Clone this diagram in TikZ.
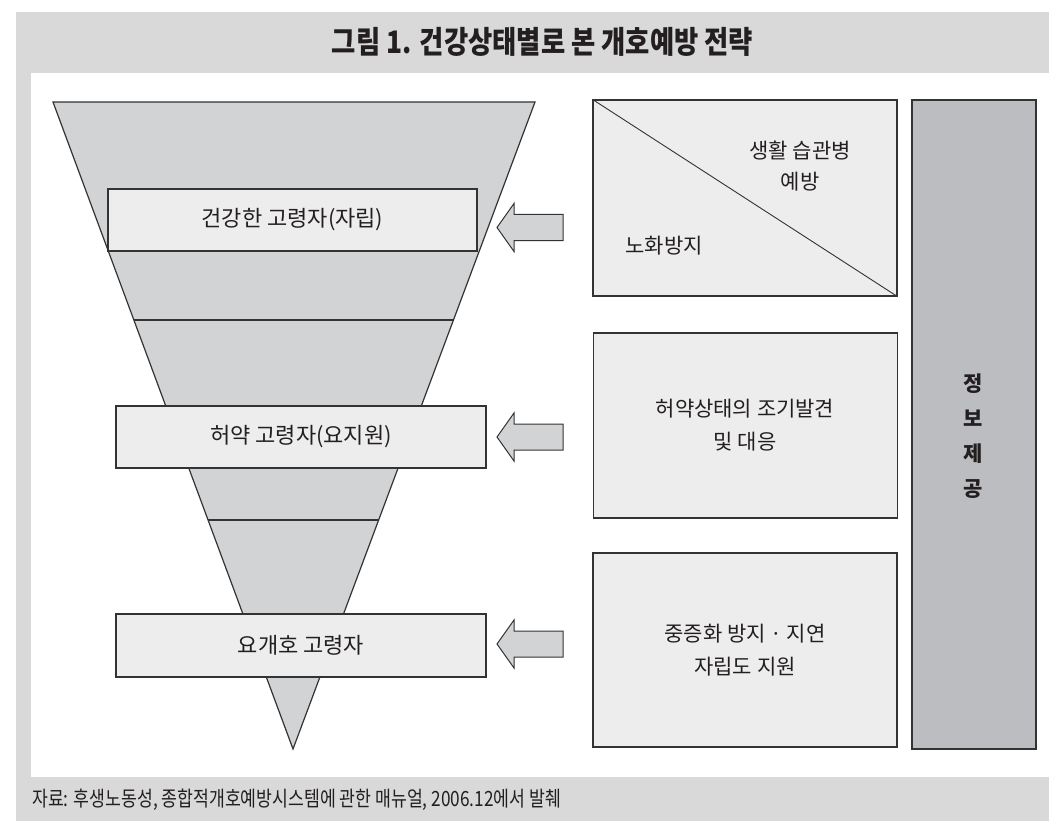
\documentclass[tikz,border=0pt]{standalone}
\usepackage{fontspec}
\setmainfont{Noto Sans CJK KR}
\usetikzlibrary{calc}
\definecolor{outergray}{HTML}{D9D9D9}
\definecolor{funnelgray}{HTML}{D1D3D4}
\definecolor{boxfill}{HTML}{EDEDED}
\definecolor{bargray}{HTML}{BCBDC0}
\definecolor{linecol}{HTML}{333333}
\definecolor{textcol}{HTML}{231F20}
\tikzset{
  level/.style={draw=linecol, fill=boxfill, line width=1.1pt, minimum width=369pt, minimum height=62pt, inner sep=0pt, font=\fontsize{22}{26}\selectfont},
  strat/.style={draw=linecol, fill=boxfill, line width=1.4pt, minimum width=304pt, inner sep=0pt},
  strattext/.style={align=center, font=\fontsize{21}{33}\selectfont, inner sep=0pt},
  blockarrow/.style={draw=linecol, fill=funnelgray, line width=1pt, line join=miter},
  bandline/.style={draw=linecol, line width=1.2pt}
}
\begin{document}
\begin{tikzpicture}[x=1pt,y=-1pt, every node/.append style={text=textcol}]
\useasboundingbox (0,0) rectangle (1049,821);
\fill[white] (0,0) rectangle (1049,821);
\fill[outergray] (16,12) rectangle (1049,821);
\fill[white] (31,72.7) rectangle (1049,777);
% title
\node[font=\bfseries\fontsize{31}{34}\selectfont, inner sep=0pt] (title) at (542.5,42) {\scalebox{0.85}[1]{그림 1. 건강상태별로 본 개호예방 전략}};
% funnel
\coordinate (ftl) at (53,102);
\coordinate (ftr) at (535,102);
\coordinate (fap) at (293,749);
\filldraw[fill=funnelgray, draw=linecol, line width=1.2pt, line join=miter] (ftl) -- (ftr) -- (fap) -- cycle;
\draw[bandline] ($(ftl)!0.337!(fap)$) -- ($(ftr)!0.337!(fap)$);
\draw[bandline] ($(ftl)!0.646!(fap)$) -- ($(ftr)!0.646!(fap)$);
% level boxes
\node[level] (b1) at (292.5,220) {건강한 고령자(자립)};
\node[level, minimum width=370pt] (b2) at (301,437) {허약 고령자(요지원)};
\node[level, minimum width=370pt, minimum height=63pt] (b3) at (301,645.5) {요개호 고령자};
% block arrows
\coordinate (a1) at (497,227.5);
\coordinate (a2) at (497,437);
\coordinate (a3) at (497,644);
\foreach \a in {a1,a2,a3}{
  \draw[blockarrow] (\a) -- ++(17,-24) -- ++(0,11) -- ++(49,0) -- ++(0,26) -- ++(-49,0) -- ++(0,11) -- cycle;
}
% strategy boxes
\node[strat, minimum height=196pt] (r1) at (745,198) {};
\draw[draw=linecol, line width=0.9pt] (r1.north west) -- (r1.south east);
\node[strattext, font=\fontsize{21}{31}\selectfont] (r1a) at (800,166) {생활 습관병\\예방};
\node[strattext] (r1b) at (664,246) {노화방지};
\node[strat, minimum height=185pt] (r2) at (745.5,425.5) {};
\node[strattext] (r2t) at (745,425) {허약상태의 조기발견\\및 대응};
\node[strat, minimum height=194pt] (r3) at (745,650) {};
\node[strattext] (r3t) at (745,650.5) {중증화 방지 · 지연\\자립도 지원};
% info bar
\node[draw=linecol, fill=bargray, line width=1.8pt, minimum width=124pt, minimum height=649pt, inner sep=0pt] (bar) at (974,424.5) {};
\node[align=center, font=\bfseries\fontsize{21}{35}\selectfont, inner sep=0pt] (bart) at (973,436) {정\\보\\제\\공};
% caption
\node[anchor=west, font=\fontsize{21}{24}\selectfont, inner sep=0pt] (cap) at (32,800) {\scalebox{0.82}[1]{자료: 후생노동성, 종합적개호예방시스템에 관한 매뉴얼, 2006.12에서 발췌}};
\end{tikzpicture}
\end{document}
